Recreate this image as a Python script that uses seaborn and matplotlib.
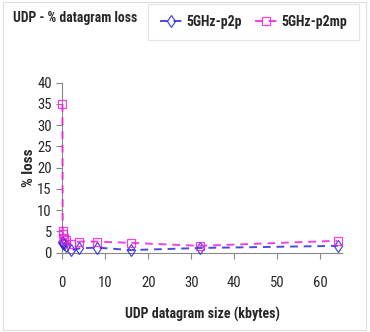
import numpy as np
import pandas as pd
import matplotlib.pyplot as plt
import seaborn as sns

# data
sizes_kb = [0.064, 0.128, 0.256, 0.512, 1, 2, 4, 8, 16, 32, 64]
loss_p2p = [2.5, 2.3, 2.2, 2.0, 1.6, 0.6, 1.0, 1.2, 0.6, 1.1, 1.6]
loss_p2mp = [35.0, 5.0, 4.5, 3.5, 3.0, 2.0, 2.6, 2.6, 2.3, 1.6, 2.8]
series = ["5GHz-p2p", "5GHz-p2mp"]

df = pd.DataFrame({
    "size": sizes_kb * 2,
    "loss": loss_p2p + loss_p2mp,
    "series": [series[0]] * len(sizes_kb) + [series[1]] * len(sizes_kb),
})

sns.set_style("ticks")
plt.rcParams["font.family"] = ["Roboto Condensed", "DejaVu Sans"]

fig = plt.figure(figsize=(3.7, 3.32), dpi=100)
ax = fig.add_axes([0.168, 0.239, 0.756, 0.512])

colors = {"5GHz-p2p": "#2b2bd9", "5GHz-p2mp": "#ee22dd"}
markers = {"5GHz-p2p": "d", "5GHz-p2mp": "s"}
for name in series:
    sub = df[df["series"] == name]
    sns.lineplot(data=sub, x="size", y="loss", ax=ax, color=colors[name],
                 linestyle=(0, (4, 3)), linewidth=1.4, marker=markers[name],
                 markersize=6, markerfacecolor="none", markeredgecolor=colors[name],
                 markeredgewidth=0.9, alpha=0.85, label=name, zorder=5, clip_on=False)

ax.set_xlim(0, 65)
ax.set_ylim(0, 40)
ax.set_xticks(range(0, 70, 10))
ax.set_yticks(range(0, 45, 5))
ax.tick_params(labelsize=10.5, length=4, color="#888888")
ax.tick_params(axis="x", pad=13)
for s in ["top", "right"]:
    ax.spines[s].set_visible(False)
for s in ["left", "bottom"]:
    ax.spines[s].set_color("#888888")
    ax.spines[s].set_zorder(1)
ax.set_xlabel("UDP datagram size (kbytes)", fontsize=10, fontweight="bold", labelpad=12)
ax.set_ylabel("% loss", fontsize=11, fontweight="bold", labelpad=1)
ax.legend_.remove()

fig.text(0.035, 0.946, "UDP - % datagram loss", fontsize=9.8, fontweight="bold", va="center")
handles, labels = ax.get_legend_handles_labels()
leg = fig.legend(handles, labels, loc="upper right", bbox_to_anchor=(0.988, 1.01), ncol=2,
                 frameon=True, fancybox=False, handlelength=1.6, handletextpad=0.3,
                 columnspacing=1.0, borderpad=0.8, prop={"weight": "bold", "size": 10})
leg.get_frame().set_edgecolor("#dddddd")
leg.get_frame().set_linewidth(0.8)

fig.patches.append(plt.Rectangle((0.008, 0.005), 0.98, 0.99, transform=fig.transFigure,
                                 fill=False, edgecolor="#dddddd", linewidth=0.8))

plt.savefig("out.png", dpi=100)
